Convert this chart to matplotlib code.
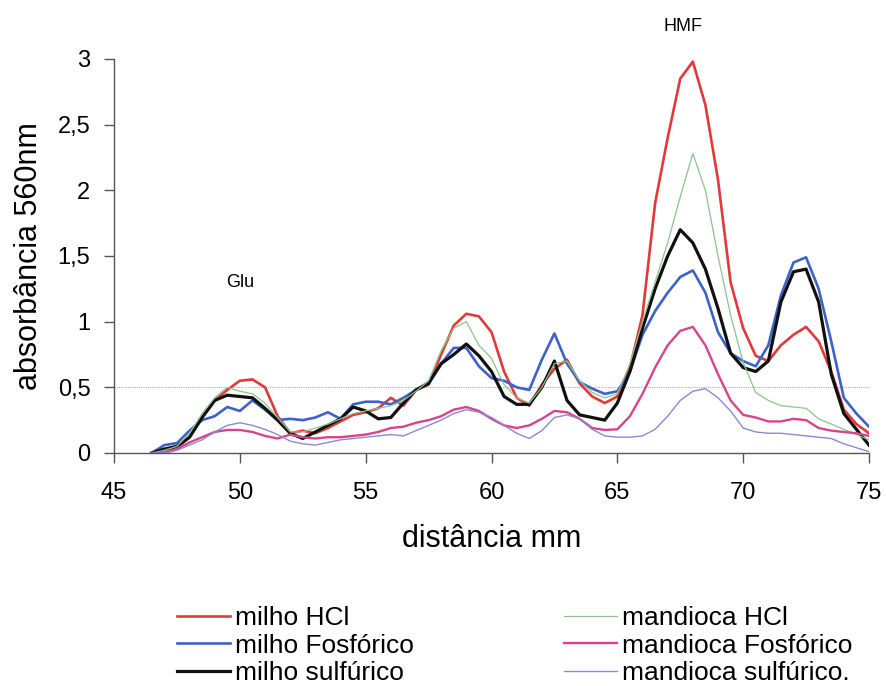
import numpy as np
import matplotlib
matplotlib.use("Agg")
import matplotlib.pyplot as plt

plt.rcParams['font.family'] = ['Liberation Sans', 'DejaVu Sans']

# distância (mm), passo de 0,5 mm
dist = np.arange(46.5, 75.01, 0.5)

milho_hcl = [0, 0.02, 0.04, 0.12, 0.27, 0.40, 0.48, 0.55, 0.56, 0.50,
             0.28, 0.15, 0.17, 0.15, 0.19, 0.24, 0.29, 0.31, 0.34, 0.42,
             0.36, 0.48, 0.52, 0.75, 0.97, 1.06, 1.04, 0.92, 0.62, 0.42,
             0.36, 0.52, 0.64, 0.71, 0.53, 0.43, 0.38, 0.43, 0.65, 1.05,
             1.90, 2.40, 2.85, 2.98, 2.65, 2.08, 1.30, 0.95, 0.74, 0.70,
             0.82, 0.90, 0.96, 0.85, 0.62, 0.33, 0.22, 0.15]

milho_fosf = [0, 0.06, 0.075, 0.17, 0.25, 0.28, 0.35, 0.32, 0.40, 0.33,
              0.25, 0.26, 0.25, 0.27, 0.31, 0.26, 0.37, 0.39, 0.39, 0.37,
              0.42, 0.48, 0.54, 0.68, 0.80, 0.80, 0.66, 0.57, 0.55, 0.50,
              0.48, 0.71, 0.91, 0.68, 0.54, 0.49, 0.45, 0.47, 0.62, 0.90,
              1.08, 1.22, 1.34, 1.39, 1.22, 0.92, 0.76, 0.70, 0.66, 0.82,
              1.20, 1.45, 1.49, 1.25, 0.85, 0.42, 0.30, 0.20]

milho_sulf = [0, 0.03, 0.05, 0.12, 0.27, 0.40, 0.44, 0.43, 0.42, 0.34,
              0.25, 0.15, 0.11, 0.16, 0.21, 0.26, 0.35, 0.32, 0.26, 0.27,
              0.38, 0.48, 0.53, 0.68, 0.75, 0.83, 0.74, 0.62, 0.43, 0.37,
              0.37, 0.50, 0.70, 0.40, 0.29, 0.27, 0.25, 0.38, 0.62, 0.95,
              1.25, 1.50, 1.70, 1.60, 1.40, 1.10, 0.76, 0.65, 0.62, 0.70,
              1.15, 1.38, 1.40, 1.15, 0.60, 0.30, 0.18, 0.06]

mand_hcl = [0, 0.02, 0.05, 0.15, 0.30, 0.42, 0.50, 0.47, 0.45, 0.38,
            0.27, 0.16, 0.16, 0.19, 0.22, 0.26, 0.30, 0.32, 0.34, 0.36,
            0.40, 0.47, 0.55, 0.78, 0.95, 1.00, 0.82, 0.72, 0.52, 0.42,
            0.38, 0.50, 0.68, 0.70, 0.55, 0.46, 0.42, 0.45, 0.68, 1.00,
            1.30, 1.60, 1.95, 2.28, 2.00, 1.50, 1.05, 0.69, 0.46, 0.40,
            0.36, 0.35, 0.34, 0.26, 0.22, 0.18, 0.14, 0.10]

mand_fosf = [0, 0.0, 0.03, 0.08, 0.12, 0.16, 0.175, 0.175, 0.16, 0.13,
             0.11, 0.14, 0.12, 0.11, 0.12, 0.12, 0.13, 0.14, 0.16, 0.19,
             0.20, 0.23, 0.25, 0.28, 0.33, 0.35, 0.32, 0.26, 0.21, 0.19,
             0.21, 0.26, 0.32, 0.31, 0.26, 0.19, 0.175, 0.18, 0.28, 0.45,
             0.65, 0.82, 0.93, 0.96, 0.82, 0.60, 0.40, 0.29, 0.27, 0.24,
             0.24, 0.26, 0.25, 0.19, 0.17, 0.16, 0.15, 0.13]

mand_sulf = [0, 0, 0.02, 0.06, 0.10, 0.16, 0.21, 0.23, 0.21, 0.18,
             0.14, 0.09, 0.07, 0.06, 0.08, 0.10, 0.11, 0.12, 0.13, 0.14,
             0.13, 0.17, 0.21, 0.25, 0.30, 0.33, 0.31, 0.27, 0.21, 0.15,
             0.11, 0.17, 0.27, 0.29, 0.26, 0.18, 0.13, 0.12, 0.12, 0.13,
             0.18, 0.28, 0.40, 0.47, 0.49, 0.42, 0.32, 0.19, 0.16, 0.15,
             0.15, 0.14, 0.13, 0.12, 0.11, 0.07, 0.04, 0.01]

fig = plt.figure(figsize=(8.86, 6.86), dpi=100)
ax = fig.add_axes([0.1287, 0.3397, 0.8521, 0.5743])

ax.axhline(0.5, color='#aaaaaa', lw=0.8, ls=(0, (1, 1)), zorder=1)

l1, = ax.plot(dist, milho_hcl, color='#e03a3a', lw=1.9, label='milho HCl')
l2, = ax.plot(dist, milho_fosf, color='#3d62c8', lw=1.9, label='milho Fosfórico')
l3, = ax.plot(dist, milho_sulf, color='#111111', lw=2.3, label='milho sulfúrico')
l4, = ax.plot(dist, mand_hcl, color='#8cc48c', lw=0.9, label='mandioca HCl')
l5, = ax.plot(dist, mand_fosf, color='#d6448e', lw=1.7, label='mandioca Fosfórico')
l6, = ax.plot(dist, mand_sulf, color='#8a8ad2', lw=1.0, label='mandioca sulfúrico.')

ax.set_xlim(45, 75)
ax.set_ylim(0, 3)
ax.set_xticks([45, 50, 55, 60, 65, 70, 75])
ax.set_yticks([0, 0.5, 1, 1.5, 2, 2.5, 3])
ax.set_yticklabels(['0', '0,5', '1', '1,5', '2', '2,5', '3'])

for s in ['top', 'right']:
    ax.spines[s].set_visible(False)
for s in ['left', 'bottom']:
    ax.spines[s].set_color('#555555')
    ax.spines[s].set_linewidth(1.0)
ax.tick_params(axis='both', direction='out', length=7, width=1,
               color='#555555', labelsize=17)
ax.tick_params(axis='y', pad=10)
ax.tick_params(axis='x', pad=14)

ax.set_xlabel('distância mm', fontsize=22, labelpad=14)
ax.set_ylabel('absorbância 560nm', fontsize=22, labelpad=10)

ax.text(50.0, 1.3, 'Glu', fontsize=13, ha='center', va='center')
ax.text(67.6, 3.25, 'HMF', fontsize=13, ha='center', va='center', clip_on=False)

# duas colunas de legenda
leg_kw = dict(loc='upper left', frameon=False, fontsize=19, handlelength=2.0,
              handletextpad=0.2, labelspacing=0.12, borderaxespad=0, borderpad=0)
fig.legend(handles=[l1, l2, l3], bbox_to_anchor=(0.2, 0.116), **leg_kw)
fig.legend(handles=[l4, l5, l6], bbox_to_anchor=(0.637, 0.116), **leg_kw)

fig.savefig('out.png', dpi=100)
